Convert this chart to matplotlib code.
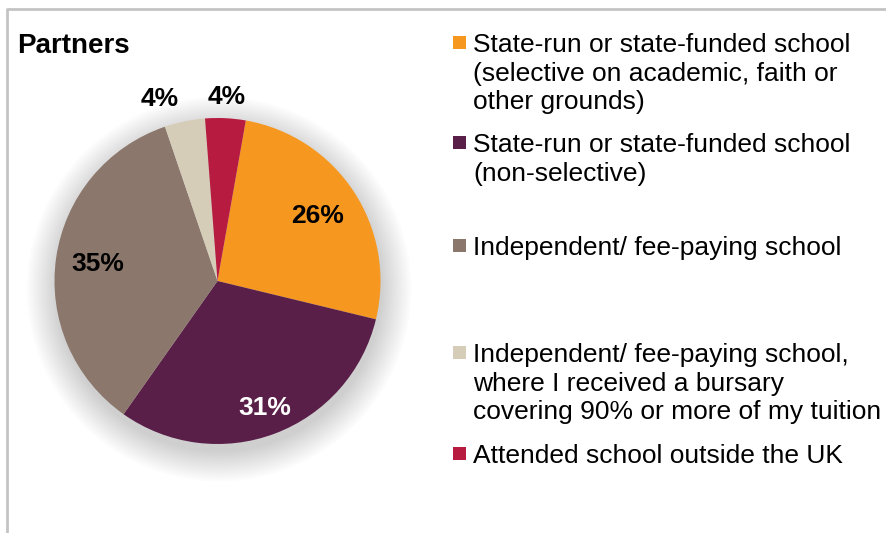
"""Partners: school type pie chart with side legend."""

import matplotlib

matplotlib.use("Agg")
import matplotlib.pyplot as plt
import numpy as np
from matplotlib.patches import Circle, Rectangle

plt.rcParams["font.family"] = ["Liberation Sans", "DejaVu Sans"]

# data
categories = [
    "State-run or state-funded school\n(selective on academic, faith or\nother grounds)",
    "State-run or state-funded school\n(non-selective)",
    "Independent/ fee-paying school",
    "Independent/ fee-paying school,\nwhere I received a bursary\ncovering 90% or more of my tuition",
    "Attended school outside the UK",
]
values = [26, 31, 35, 4, 4]
pct_labels = ["26%", "31%", "35%", "4%", "4%"]
colors = ["#F6971F", "#5A1F48", "#8B776C", "#D6CDB9", "#B71B40"]
label_colors = ["black", "white", "black", "black", "black"]
label_radius = [0.73, 0.83, 0.74, 1.17, 1.13]
label_shift_deg = [0, 0, 0, 6, 0]  # nudge for outside labels
legend_y_px = [42, 142, 245, 352, 453]  # first-line centre of each entry

W, H = 886, 533
fig = plt.figure(figsize=(W / 100, H / 100), dpi=100)

# outer frame (top and left edges visible)
frame = fig.add_axes([0, 0, 1, 1])
frame.set_xlim(0, W)
frame.set_ylim(H, 0)
frame.axis("off")
frame.plot([7, 7, W], [H, 9, 9], color="#C4C4C4", lw=2, solid_capstyle="butt")

# pie
cx, cy, r = 217.5, 281, 163
ax = fig.add_axes([(cx - r) / W, (H - cy - r) / H, 2 * r / W, 2 * r / H])

wedges, _ = ax.pie(values, colors=colors, startangle=80, counterclock=False,
                   radius=1.0, wedgeprops=dict(linewidth=0))
ax.set_xlim(-1, 1)
ax.set_ylim(-1, 1)
ax.set_aspect("equal")
ax.axis("off")
for w in wedges:
    w.set_zorder(2)

# soft shadow
for i in range(16):
    ax.add_patch(Circle((0.01, -0.05), 1.0 + 0.012 * i, color="#000000",
                        alpha=0.01, lw=0, zorder=0, clip_on=False))

for w, lab, col, rf, sh in zip(wedges, pct_labels, label_colors,
                               label_radius, label_shift_deg):
    mid = np.deg2rad((w.theta1 + w.theta2) / 2 + sh)
    ax.text(rf * np.cos(mid), rf * np.sin(mid), lab, ha="center", va="center",
            fontsize=19, fontweight="bold", color=col, zorder=3)

fig.text(17 / W, 1 - 46 / H, "Partners", ha="left", va="center",
         fontsize=20, fontweight="bold")

# legend
for lab, col, y in zip(categories, colors, legend_y_px):
    frame.add_patch(Rectangle((453, y - 6.5), 13, 13, color=col, lw=0))
    frame.text(473, y - 9, lab, ha="left", va="top", fontsize=19,
               linespacing=1.24, transform=frame.transData)

fig.savefig("out.png", dpi=100)
